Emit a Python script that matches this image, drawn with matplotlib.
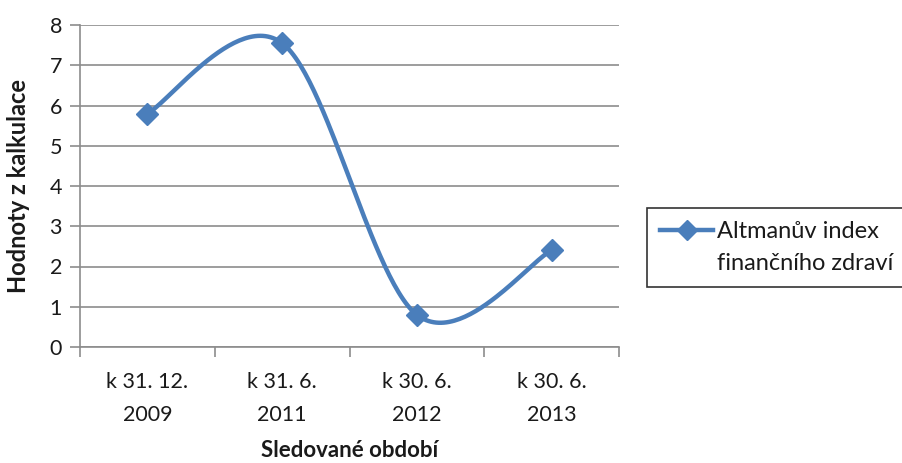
import numpy as np
import matplotlib
matplotlib.use("Agg")
import matplotlib.pyplot as plt
from matplotlib.lines import Line2D

# Data -----
periods = ["k 31. 12.\n2009", "k 31. 6.\n2011", "k 30. 6.\n2012", "k 30. 6.\n2013"]
altman = [5.8, 7.55, 0.8, 2.4]
series_label = ["Altmanův index", "finančního zdraví"]

plt.rcParams["font.family"] = ["Lato", "DejaVu Sans"]

BLUE = "#4a7ebb"
GRID = "#8c8c8c"
TXT = "#1a1a1a"


def smooth(xs, ys, n=60):
    # Catmull-Rom style Bezier segments (same as spreadsheet "smoothed line")
    pts = np.column_stack([xs, ys]).astype(float)
    out = []
    for i in range(len(pts) - 1):
        p0 = pts[max(i - 1, 0)]
        p1 = pts[i]
        p2 = pts[i + 1]
        p3 = pts[min(i + 2, len(pts) - 1)]
        c1 = p1 + (p2 - p0) / 6
        c2 = p2 - (p3 - p1) / 6
        t = np.linspace(0, 1, n)[:, None]
        seg = ((1 - t) ** 3) * p1 + 3 * ((1 - t) ** 2) * t * c1 \
            + 3 * (1 - t) * t ** 2 * c2 + t ** 3 * p2
        out.append(seg if i == 0 else seg[1:])
    out = np.vstack(out)
    return out[:, 0], out[:, 1]


fig = plt.figure(figsize=(9.02, 4.63), dpi=100)
ax = fig.add_axes([80 / 902, 116 / 463, 539 / 902, 322 / 463])

x = np.arange(len(periods))
sx, sy = smooth(x, altman)
ax.plot(sx, sy, color=BLUE, lw=3.2, solid_capstyle="round", zorder=3)
ax.plot(x, altman, ls="none", marker="D", ms=11, color=BLUE, zorder=4)

ax.set_xlim(-0.5, len(periods) - 0.5)
ax.set_ylim(0, 8)

# y axis
ax.set_yticks(range(0, 9))
ax.yaxis.grid(True, color=GRID, lw=1.2)
ax.set_axisbelow(True)
ax.tick_params(axis="y", length=7, width=1.2, color=GRID, labelsize=15.5, pad=6,
               labelcolor=TXT)

# x axis: tick marks between categories, labels centred under them
ax.set_xticks(np.arange(-0.5, len(periods), 1.0))
ax.set_xticklabels([])
ax.set_xticks(x, minor=True)
ax.set_xticklabels(periods, minor=True, fontsize=15.5, linespacing=1.8,
                   color=TXT)
ax.tick_params(axis="x", which="major", length=7, width=1.2, color=GRID)
ax.tick_params(axis="x", which="minor", length=0, pad=18)

for side in ["top", "right"]:
    ax.spines[side].set_visible(False)
for side in ["left", "bottom"]:
    ax.spines[side].set_color(GRID)
    ax.spines[side].set_linewidth(1.2)

ax.set_ylabel("Hodnoty z kalkulace", fontsize=17, fontweight="bold",
              color=TXT, labelpad=14)
ax.set_xlabel("Sledované období", fontsize=16, fontweight="bold",
              color=TXT, labelpad=11)

# legend: marker on the first text line only
handle = Line2D([], [], color=BLUE, lw=3.2, marker="D", ms=10)
blank = Line2D([], [], color="none")
leg = fig.legend([handle, blank], series_label, loc="upper left",
                 bbox_to_anchor=(647 / 902, 1 - 208 / 463),
                 fontsize=17, frameon=True, fancybox=False,
                 handlelength=2.25, handletextpad=0.15, borderpad=0.55,
                 labelspacing=0.45, borderaxespad=0)
leg.get_frame().set_edgecolor("black")
leg.get_frame().set_linewidth(1.2)
for t in leg.get_texts():
    t.set_color(TXT)

fig.savefig("out.png", dpi=100)
